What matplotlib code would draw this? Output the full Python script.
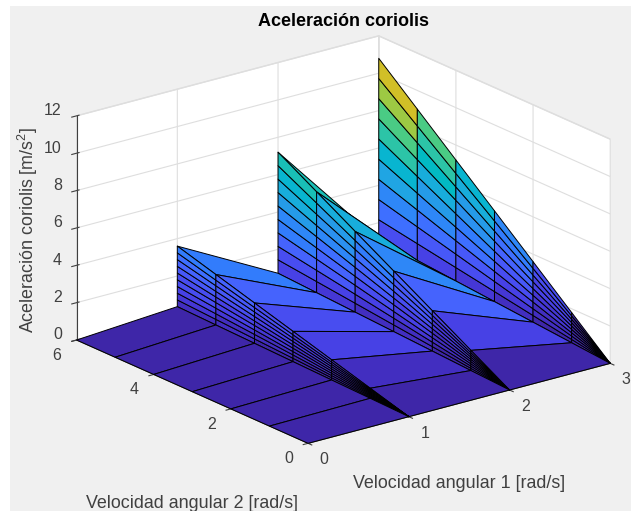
import numpy as np
import matplotlib
matplotlib.use('Agg')
import matplotlib.pyplot as plt
from matplotlib.colors import ListedColormap
from matplotlib.patches import Rectangle

# Values
w2_values = [0, 1, 2, 3, 4, 5, 6]
wall_positions = [1, 2, 3]
peak_wall_1 = [0, 0.6, 1.2, 1.8, 2.4, 3.0, 3.6]
peak_wall_2 = [0, 1.2, 2.4, 3.6, 4.8, 6.0, 7.2]
peak_wall_3 = [0, 1.8, 3.6, 5.4, 7.2, 9.0, 10.8]
wall_levels = [0.1, 0.2, 0.3, 0.4, 0.5, 0.6, 0.7, 0.8, 0.9, 1.0]

x_ticks = [0, 1, 2, 3]
y_ticks = [0, 2, 4, 6]
z_ticks = [0, 2, 4, 6, 8, 10, 12]

# parula colormap
parula = ListedColormap([
    [0.2422, 0.1504, 0.6603], [0.2578, 0.1818, 0.7511], [0.2706, 0.2147, 0.8364],
    [0.2783, 0.2559, 0.8991], [0.2813, 0.3006, 0.9414], [0.2795, 0.3447, 0.9717],
    [0.2699, 0.3892, 0.9906], [0.2440, 0.4358, 0.9988], [0.1963, 0.4847, 0.9892],
    [0.1786, 0.5289, 0.9682], [0.1687, 0.5703, 0.9359], [0.1460, 0.6091, 0.9079],
    [0.1248, 0.6459, 0.8883], [0.0952, 0.6798, 0.8598], [0.0297, 0.7082, 0.8163],
    [0.0067, 0.7312, 0.7660], [0.0964, 0.7500, 0.7120], [0.1717, 0.7670, 0.6554],
    [0.2161, 0.7843, 0.5923], [0.2906, 0.7973, 0.5188], [0.3909, 0.8029, 0.4354],
    [0.5044, 0.7993, 0.3480], [0.6174, 0.7876, 0.2612], [0.7242, 0.7698, 0.1910],
    [0.8203, 0.7498, 0.1535], [0.9035, 0.7330, 0.1774], [0.9728, 0.7298, 0.2394],
    [0.9970, 0.7659, 0.2199], [0.9892, 0.8136, 0.1885], [0.9676, 0.8639, 0.1643],
    [0.9597, 0.9135, 0.1423], [0.9691, 0.9606, 0.1064], [0.9769, 0.9839, 0.0805]])

plt.rcParams['font.family'] = ['Liberation Sans', 'DejaVu Sans']
plt.rcParams['mathtext.default'] = 'regular'
plt.rcParams['grid.color'] = '#dedede'
plt.rcParams['grid.linewidth'] = 0.8

# Build the grid: floor column, then one bundle of columns per wall
peaks = [peak_wall_1, peak_wall_2, peak_wall_3]
x_nodes = [0.0]
z_cols = [np.zeros(len(w2_values))]
for pos, peak in zip(wall_positions, peaks):
    for lev in wall_levels:
        x_nodes.append(pos)
        z_cols.append(np.array(peak) * lev)
X, Y = np.meshgrid(x_nodes, w2_values)
Z = np.array(z_cols).T

# flat shading: each cell takes the higher of its two low-y corners
face_vals = np.maximum(Z[:-1, :-1], Z[:-1, 1:]) / 12.0
colors = parula(face_vals)

text_col = '#404040'
fig = plt.figure(figsize=(6.31, 5.11), dpi=100, facecolor='white')
fig.add_artist(Rectangle((10 / 631, 0), 621 / 631, 505 / 511, transform=fig.transFigure,
                         facecolor='#f0f0f0', edgecolor='none', zorder=-5))

ax = fig.add_axes([21 / 631, 9 / 511, 1.0, 1.0], projection='3d', proj_type='ortho')
ax.set_facecolor('none')
ax.view_init(elev=20.1, azim=-127.6)
ax.set_box_aspect((381, 379, 238.5), zoom=1.118)

surf = ax.plot_surface(X, Y, Z, facecolors=colors, rstride=1, cstride=1, shade=False,
                       edgecolor='black', linewidth=0.7, antialiased=True)
surf.set_clip_on(False)

ax.set_xlim(0, 3, view_margin=0)
ax.set_ylim(0, 6, view_margin=0)
ax.set_zlim(0, 12, view_margin=0)
ax.set_xticks(x_ticks)
ax.set_yticks(y_ticks)
ax.set_zticks(z_ticks)
ax.tick_params(labelsize=11.5, colors=text_col, pad=1.7)
ax.tick_params(axis='z', pad=-2.7)

for axis in (ax.xaxis, ax.yaxis, ax.zaxis):
    axis.set_pane_color('white')
    axis.pane.set_edgecolor('#dedede')
    axis.line.set_color('#404040')
    axis.line.set_linewidth(0.8)
ax.zaxis.set_ticks_position('upper')

for t in ax.get_xticklabels():
    t.set_ha('left')
    t.set_va('center')
for t in ax.get_yticklabels():
    t.set_ha('right')
    t.set_va('center')
for t in ax.get_zticklabels():
    t.set_ha('right')
    t.set_va('baseline')

fig.text(343 / 631, 1 - 22 / 511, 'Aceleración coriolis', fontsize=13, fontweight='bold',
         color='black', ha='center', va='center')
fig.text(459.5 / 631, 1 - 483 / 511, 'Velocidad angular 1 [rad/s]', fontsize=12.9,
         color=text_col, ha='center', va='center')
fig.text(192.5 / 631, 1 - 503 / 511, 'Velocidad angular 2 [rad/s]', fontsize=12.9,
         color=text_col, ha='center', va='center')
fig.text(28 / 631, 1 - 230 / 511, 'Aceleración coriolis [m/s$^2$]', fontsize=12.9,
         color=text_col, ha='center', va='center', rotation=90)

fig.savefig('out.png', dpi=100)
